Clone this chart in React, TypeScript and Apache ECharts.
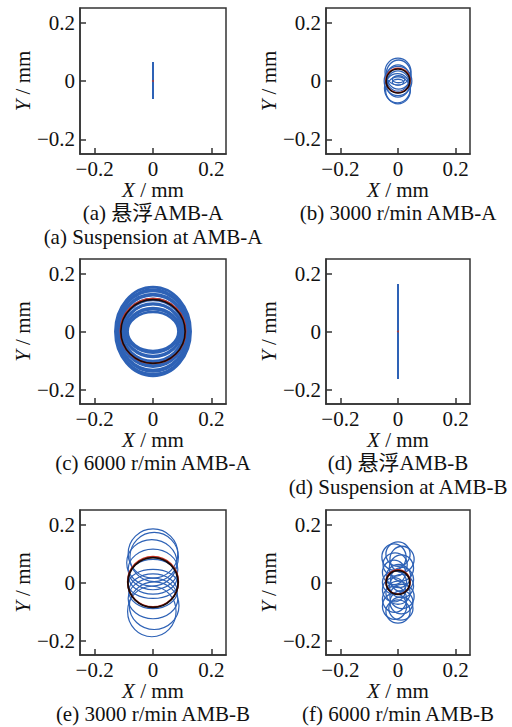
import React, { useEffect, useRef } from "react";
import * as echarts from "echarts";

// ---- data ----
const tickValues = [-0.2, 0, 0.2];
const axisMin = -0.25;
const axisMax = 0.25;

const captionsCn = [
  "(a) 悬浮AMB-A",
  "(b) 3000 r/min AMB-A",
  "(c) 6000 r/min AMB-A",
  "(d) 悬浮AMB-B",
  "(e) 3000 r/min AMB-B",
  "(f) 6000 r/min AMB-B",
];
const captionsEn = ["(a) Suspension at AMB-A", "", "", "(d) Suspension at AMB-B", "", ""];

// suspension traces (x, y)
const traceA = [
  [0, -0.062],
  [0, 0.065],
];
const traceD = [
  [0, -0.164],
  [0, 0.164],
];
const centerPoint = [[0, 0]];

// orbit ellipses: [cx, cy, rx, ry]
const orbitsB = [
  [0, 0.032, 0.045, 0.046],
  [0.002, 0.022, 0.043, 0.05],
  [0, 0.01, 0.04, 0.045],
  [0, 0, 0.048, 0.05],
  [0, -0.01, 0.04, 0.045],
  [-0.002, -0.025, 0.045, 0.05],
  [0, -0.032, 0.043, 0.046],
  [0.002, 0.006, 0.022, 0.012],
  [0, -0.004, 0.02, 0.01],
];
const orbitsC = [
  [0, 0, 0.087, 0.067],
  [0, 0.002, 0.091, 0.075],
  [0, -0.002, 0.095, 0.083],
  [0, 0.003, 0.099, 0.091],
  [0, -0.003, 0.103, 0.099],
  [0, 0.002, 0.107, 0.107],
  [0, -0.002, 0.111, 0.115],
  [0, 0.002, 0.115, 0.123],
  [0, -0.002, 0.119, 0.131],
  [0, 0.001, 0.122, 0.139],
  [0, -0.001, 0.126, 0.146],
  [0, 0, 0.129, 0.153],
];
const orbitsE = [
  [0, 0.1, 0.085, 0.085],
  [0.004, 0.088, 0.083, 0.085],
  [-0.004, 0.068, 0.086, 0.08],
  [0, 0.045, 0.085, 0.07],
  [0, 0.02, 0.083, 0.06],
  [0, -0.005, 0.085, 0.05],
  [0, -0.03, 0.083, 0.06],
  [0, -0.055, 0.085, 0.07],
  [0.004, -0.08, 0.085, 0.082],
  [-0.004, -0.1, 0.083, 0.087],
];
const orbitsF = [
  [0, 0.098, 0.042, 0.042],
  [-0.014, 0.088, 0.042, 0.045],
  [0.014, 0.08, 0.042, 0.045],
  [-0.01, 0.062, 0.042, 0.04],
  [0.012, 0.05, 0.042, 0.045],
  [-0.014, 0.035, 0.04, 0.042],
  [0.002, 0.022, 0.042, 0.04],
  [0.014, 0.01, 0.04, 0.042],
  [-0.012, 0, 0.042, 0.04],
  [0.012, -0.012, 0.042, 0.04],
  [-0.014, -0.025, 0.04, 0.042],
  [0, -0.035, 0.042, 0.04],
  [0.014, -0.048, 0.042, 0.042],
  [-0.012, -0.058, 0.042, 0.045],
  [0.012, -0.068, 0.04, 0.04],
  [-0.012, -0.082, 0.042, 0.045],
  [0.01, -0.09, 0.042, 0.04],
  [0, -0.1, 0.042, 0.04],
];
// mean orbits: red (under) and black (over)
const meanRedB = [[0, 0.002, 0.042, 0.042]];
const meanBlackB = [[0, 0, 0.041, 0.041]];
const meanRedC = [[0, 0.002, 0.112, 0.112]];
const meanBlackC = [[0, 0, 0.11, 0.11]];
const meanRedE = [[0, 0.003, 0.087, 0.087]];
const meanBlackE = [[0, 0, 0.086, 0.086]];
const meanRedF = [[0, 0.002, 0.042, 0.042]];
const meanBlackF = [[0, 0, 0.041, 0.041]];

// ---- layout / style ----
const SERIF = "'Liberation Serif', 'Times New Roman', 'Noto Sans CJK SC', serif";
const BLUE = "#2e62b6";
const RED = "#cc3322";
const BLACK = "#1c0806";
const TEXT = "#111111";

const grids = [
  { left: 80, top: 8, width: 146, height: 146 },
  { left: 326, top: 8, width: 144, height: 146 },
  { left: 80, top: 259, width: 146, height: 145 },
  { left: 326, top: 259, width: 144, height: 145 },
  { left: 80, top: 510, width: 146, height: 145 },
  { left: 326, top: 510, width: 144, height: 145 },
];

function fmt(v: number) {
  if (Math.abs(v) < 1e-9) return "0";
  return (v < 0 ? "\u2212" : "") + Math.abs(v).toFixed(1);
}

function ellipseSeries(idx: number, data: number[][], color: string, lw: number, z: number) {
  return {
    type: "custom",
    coordinateSystem: "cartesian2d",
    xAxisIndex: idx,
    yAxisIndex: idx,
    z,
    silent: true,
    data,
    encode: { x: 0, y: 1 },
    renderItem: (_params: any, api: any) => {
      const c = api.coord([api.value(0), api.value(1)]);
      const s = api.size([api.value(2), api.value(3)]);
      return {
        type: "ellipse",
        shape: { cx: c[0], cy: c[1], rx: s[0], ry: s[1] },
        style: { fill: "none", stroke: color, lineWidth: lw },
      };
    },
  };
}

function lineSeries(idx: number, data: number[][]) {
  return {
    type: "line",
    xAxisIndex: idx,
    yAxisIndex: idx,
    data,
    symbol: "none",
    lineStyle: { color: BLUE, width: 2 },
    z: 3,
  };
}

function dotSeries(idx: number) {
  return {
    type: "scatter",
    xAxisIndex: idx,
    yAxisIndex: idx,
    data: centerPoint,
    symbolSize: 2,
    itemStyle: { color: RED },
    z: 4,
  };
}

export default function App() {
  const ref = useRef<HTMLDivElement>(null);
  useEffect(() => {
    if (!ref.current) return;
    const chart = echarts.init(ref.current, undefined, { renderer: "svg" });

    const axisCommon = {
      type: "value",
      min: axisMin,
      max: axisMax,
      splitLine: { show: false },
      axisLine: { show: true, onZero: false, lineStyle: { color: "#333", width: 1.5 } },
      axisTick: {
        show: true,
        inside: true,
        length: 6,
        customValues: tickValues,
        lineStyle: { color: "#333", width: 1.5 },
      },
      nameLocation: "middle",
    };
    const nameStyle = {
      fontFamily: SERIF,
      fontSize: 21,
      color: TEXT,
      rich: { i: { fontFamily: SERIF, fontStyle: "italic", fontSize: 21, color: TEXT } },
    };
    const labelStyle = {
      customValues: tickValues,
      formatter: fmt,
      fontFamily: SERIF,
      fontSize: 21,
      color: TEXT,
    };

    const xAxes = grids.map((_, i) => ({
      ...axisCommon,
      gridIndex: i,
      axisLabel: { ...labelStyle, margin: 4 },
      name: "{i|X} / mm",
      nameGap: 25,
      nameTextStyle: nameStyle,
    }));
    const yAxes = grids.map((_, i) => ({
      ...axisCommon,
      gridIndex: i,
      axisLabel: { ...labelStyle, margin: 5 },
      name: "{i|Y} / mm",
      nameGap: 46,
      nameTextStyle: nameStyle,
    }));

    const graphics: any[] = [];
    grids.forEach((g, i) => {
      const cx = g.left + g.width / 2;
      const bottom = g.top + g.height;
      graphics.push({
        type: "text",
        x: cx,
        y: bottom + 59,
        style: {
          text: captionsCn[i],
          fontFamily: SERIF,
          fontSize: 21,
          fill: TEXT,
          align: "center",
          verticalAlign: "middle",
        },
      });
      if (captionsEn[i]) {
        graphics.push({
          type: "text",
          x: cx,
          y: bottom + 83,
          style: {
            text: captionsEn[i],
            fontFamily: SERIF,
            fontSize: 21,
            fill: TEXT,
            align: "center",
            verticalAlign: "middle",
          },
        });
      }
    });

    const series: any[] = [
      lineSeries(0, traceA),
      dotSeries(0),
      ellipseSeries(1, orbitsB, BLUE, 1.3, 2),
      ellipseSeries(1, meanRedB, RED, 1.5, 3),
      ellipseSeries(1, meanBlackB, BLACK, 1.6, 4),
      ellipseSeries(2, orbitsC, BLUE, 2.6, 2),
      ellipseSeries(2, meanRedC, RED, 1.5, 3),
      ellipseSeries(2, meanBlackC, BLACK, 1.6, 4),
      lineSeries(3, traceD),
      dotSeries(3),
      ellipseSeries(4, orbitsE, BLUE, 1.2, 2),
      ellipseSeries(4, meanRedE, RED, 1.5, 3),
      ellipseSeries(4, meanBlackE, BLACK, 1.8, 4),
      ellipseSeries(5, orbitsF, BLUE, 1.3, 2),
      ellipseSeries(5, meanRedF, RED, 1.5, 3),
      ellipseSeries(5, meanBlackF, BLACK, 1.8, 4),
    ];

    chart.setOption({
      animation: false,
      backgroundColor: "#ffffff",
      grid: grids.map((g) => ({
        ...g,
        show: true,
        borderColor: "#333",
        borderWidth: 1.5,
        backgroundColor: "transparent",
        containLabel: false,
      })),
      xAxis: xAxes,
      yAxis: yAxes,
      series,
      graphic: graphics,
    });
    return () => chart.dispose();
  }, []);
  return (
    <div
      ref={ref}
      style={{ position: "absolute", left: 0, top: 0, width: 512, height: 727 }}
    />
  );
}
